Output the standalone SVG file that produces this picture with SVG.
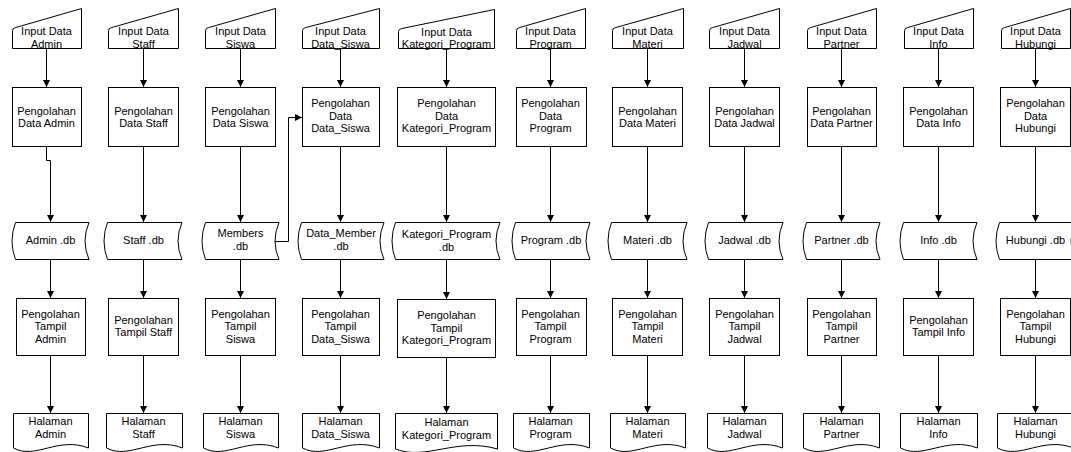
<svg xmlns="http://www.w3.org/2000/svg" width="1071" height="452" viewBox="0 0 1071 452">
<defs>
<marker id="arr" viewBox="0 0 10 10" markerWidth="7" markerHeight="7" refX="10" refY="5" orient="auto" markerUnits="userSpaceOnUse">
<path d="M0,0 L10,5 L0,10 Z" fill="#000"/>
</marker>
<style>
.s{fill:#fff;stroke:#000;stroke-width:1}
.t{font-family:"Liberation Sans",Arial,sans-serif;font-size:11px;fill:#000;text-anchor:middle}
.c{fill:none;stroke:#000;stroke-width:1;marker-end:url(#arr)}
</style>
</defs>
<rect width="1071" height="452" fill="#fff"/>

<g id="connectors">
<path class="c" d="M46.5,48.5 V87"/>
<path class="c" d="M46.5,146.5 V160.5 H50.5 V222"/>
<path class="c" d="M50.5,259.5 V298"/>
<path class="c" d="M50.5,355.5 V413"/>

<path class="c" d="M143.5,48.5 V87"/>
<path class="c" d="M143.5,146.5 V222"/>
<path class="c" d="M143.5,259.5 V298"/>
<path class="c" d="M143.5,355.5 V413"/>

<path class="c" d="M240.5,48.5 V87"/>
<path class="c" d="M240.5,146.5 V222"/>
<path class="c" d="M240.5,259.5 V298"/>
<path class="c" d="M240.5,355.5 V413"/>

<path class="c" d="M340.5,48.5 V87"/>
<path class="c" d="M340.5,146.5 V222"/>
<path class="c" d="M340.5,259.5 V298"/>
<path class="c" d="M340.5,355.5 V413"/>
<path class="c" d="M275,241.5 H288.5 V117.5 H302"/>

<path class="c" d="M446.5,48.5 V87"/>
<path class="c" d="M446.5,146.5 V222"/>
<path class="c" d="M446.5,259.5 V299"/>
<path class="c" d="M446.5,357.5 V413"/>

<path class="c" d="M550.5,48.5 V87"/>
<path class="c" d="M550.5,146.5 V222"/>
<path class="c" d="M550.5,259.5 V298"/>
<path class="c" d="M550.5,355.5 V413"/>

<path class="c" d="M647.5,48.5 V87"/>
<path class="c" d="M647.5,146.5 V222"/>
<path class="c" d="M647.5,259.5 V298"/>
<path class="c" d="M647.5,355.5 V413"/>

<path class="c" d="M744.5,48.5 V87"/>
<path class="c" d="M744.5,146.5 V222"/>
<path class="c" d="M744.5,259.5 V298"/>
<path class="c" d="M744.5,355.5 V413"/>

<path class="c" d="M841.5,48.5 V87"/>
<path class="c" d="M841.5,146.5 V222"/>
<path class="c" d="M841.5,259.5 V298"/>
<path class="c" d="M841.5,355.5 V413"/>

<path class="c" d="M938.5,48.5 V87"/>
<path class="c" d="M938.5,146.5 V222"/>
<path class="c" d="M938.5,259.5 V298"/>
<path class="c" d="M938.5,355.5 V413"/>

<path class="c" d="M1035.5,48.5 V87"/>
<path class="c" d="M1035.5,146.5 V222"/>
<path class="c" d="M1035.5,259.5 V298"/>
<path class="c" d="M1035.5,355.5 V413"/>
</g>

<!-- Column: Admin -->
<g id="input-admin"><path class="s" d="M12.5,48.5 V30.5 Q12.8,28 15.5,27.6 L81.5,8.5 V48.5 Z"/><text class="t" x="46.5" y="35">Input Data</text><text class="t" x="46.5" y="47.5">Admin</text></g>
<g id="proc-data-admin"><rect class="s" x="12.5" y="87.5" width="69" height="59"/><text class="t" x="46.5" y="114.5">Pengolahan</text><text class="t" x="46.5" y="127">Data Admin</text></g>
<g id="db-admin"><path class="s" d="M15.5,222.5 H89 Q81,241 89,259.5 H15.5 Q8.5,241 15.5,222.5 Z"/><text class="t" x="50.5" y="244">Admin .db</text></g>
<g id="proc-tampil-admin"><rect class="s" x="16.5" y="298.5" width="69" height="57"/><text class="t" x="50.5" y="317.5">Pengolahan</text><text class="t" x="50.5" y="330">Tampil</text><text class="t" x="50.5" y="342.5">Admin</text></g>
<g id="doc-admin"><path class="s" d="M13.5,413.5 H88.5 V448 C58,436 35.5,460 13.5,448 Z"/><text class="t" x="50.5" y="424.5">Halaman</text><text class="t" x="50.5" y="437.5">Admin</text></g>

<!-- Column: Staff -->
<g id="input-staff"><path class="s" d="M108.5,48.5 V30.5 Q108.8,28 111.5,27.6 L178.5,8.5 V48.5 Z"/><text class="t" x="143.5" y="35">Input Data</text><text class="t" x="143.5" y="47.5">Staff</text></g>
<g id="proc-data-staff"><rect class="s" x="108.5" y="87.5" width="70" height="59"/><text class="t" x="143.5" y="114.5">Pengolahan</text><text class="t" x="143.5" y="127">Data Staff</text></g>
<g id="db-staff"><path class="s" d="M107.5,222.5 H182 Q174,241 182,259.5 H107.5 Q100.5,241 107.5,222.5 Z"/><text class="t" x="143.5" y="244">Staff .db</text></g>
<g id="proc-tampil-staff"><rect class="s" x="108.5" y="298.5" width="70" height="57"/><text class="t" x="143.5" y="323.5">Pengolahan</text><text class="t" x="143.5" y="336">Tampil Staff</text></g>
<g id="doc-staff"><path class="s" d="M106.5,413.5 H182.5 V448 C152,436 129,460 106.5,448 Z"/><text class="t" x="143.5" y="424.5">Halaman</text><text class="t" x="143.5" y="437.5">Staff</text></g>

<!-- Column: Siswa -->
<g id="input-siswa"><path class="s" d="M205.5,48.5 V30.5 Q205.8,28 208.5,27.6 L275.5,8.5 V48.5 Z"/><text class="t" x="240.5" y="35">Input Data</text><text class="t" x="240.5" y="47.5">Siswa</text></g>
<g id="proc-data-siswa"><rect class="s" x="205.5" y="87.5" width="70" height="59"/><text class="t" x="240.5" y="114.5">Pengolahan</text><text class="t" x="240.5" y="127">Data Siswa</text></g>
<g id="db-members"><path class="s" d="M205.5,222.5 H279 Q271,241 279,259.5 H205.5 Q198.5,241 205.5,222.5 Z"/><text class="t" x="240.5" y="237">Members</text><text class="t" x="240.5" y="249.5">.db</text></g>
<g id="proc-tampil-siswa"><rect class="s" x="205.5" y="298.5" width="70" height="57"/><text class="t" x="240.5" y="317.5">Pengolahan</text><text class="t" x="240.5" y="330">Tampil</text><text class="t" x="240.5" y="342.5">Siswa</text></g>
<g id="doc-siswa"><path class="s" d="M203.5,413.5 H278.5 V448 C248,436 225.5,460 203.5,448 Z"/><text class="t" x="240.5" y="424.5">Halaman</text><text class="t" x="240.5" y="437.5">Siswa</text></g>

<!-- Column: Data_Siswa -->
<g id="input-data-siswa"><path class="s" d="M302.5,48.5 V30.5 Q302.8,28 305.5,27.6 L379.5,8.5 V48.5 Z"/><text class="t" x="340.5" y="35">Input Data</text><text class="t" x="340.5" y="47.5">Data_Siswa</text></g>
<g id="proc-data-data-siswa"><rect class="s" x="302.5" y="87.5" width="77" height="59"/><text class="t" x="340.5" y="107">Pengolahan</text><text class="t" x="340.5" y="119.5">Data</text><text class="t" x="340.5" y="132">Data_Siswa</text></g>
<g id="db-data-member"><path class="s" d="M301.5,222.5 H384 Q376,241 384,259.5 H301.5 Q294.5,241 301.5,222.5 Z"/><text class="t" x="341" y="237">Data_Member</text><text class="t" x="341" y="249.5">.db</text></g>
<g id="proc-tampil-data-siswa"><rect class="s" x="302.5" y="298.5" width="77" height="57"/><text class="t" x="340.5" y="317.5">Pengolahan</text><text class="t" x="340.5" y="330">Tampil</text><text class="t" x="340.5" y="342.5">Data_Siswa</text></g>
<g id="doc-data-siswa"><path class="s" d="M302.5,413.5 H379.5 V448 C348,436 325,460 302.5,448 Z"/><text class="t" x="340.5" y="424.5">Halaman</text><text class="t" x="340.5" y="437.5">Data_Siswa</text></g>

<!-- Column: Kategori_Program -->
<g id="input-kategori-program"><path class="s" d="M398.5,48.5 V31.5 Q398.8,29 401.5,28.6 L494.5,9.5 V48.5 Z"/><text class="t" x="446.5" y="35.5">Input Data</text><text class="t" x="446.5" y="48">Kategori_Program</text></g>
<g id="proc-data-kategori-program"><rect class="s" x="397.5" y="87.5" width="98" height="59"/><text class="t" x="446.5" y="107">Pengolahan</text><text class="t" x="446.5" y="119.5">Data</text><text class="t" x="446.5" y="132">Kategori_Program</text></g>
<g id="db-kategori-program"><path class="s" d="M395.5,222.5 H500 Q492,241 500,259.5 H395.5 Q388.5,241 395.5,222.5 Z"/><text class="t" x="446.5" y="238">Kategori_Program</text><text class="t" x="446.5" y="250.5">.db</text></g>
<g id="proc-tampil-kategori-program"><rect class="s" x="397.5" y="299.5" width="98" height="58"/><text class="t" x="446.5" y="319">Pengolahan</text><text class="t" x="446.5" y="331.5">Tampil</text><text class="t" x="446.5" y="344">Kategori_Program</text></g>
<g id="doc-kategori-program"><path class="s" d="M395.5,413.5 H497.5 V449 C456,437 426,461 395.5,449 Z"/><text class="t" x="446.5" y="426">Halaman</text><text class="t" x="446.5" y="438.5">Kategori_Program</text></g>

<!-- Column: Program -->
<g id="input-program"><path class="s" d="M516.5,48.5 V30.5 Q516.8,28 519.5,27.6 L585.5,8.5 V48.5 Z"/><text class="t" x="550.5" y="35">Input Data</text><text class="t" x="550.5" y="47.5">Program</text></g>
<g id="proc-data-program"><rect class="s" x="516.5" y="87.5" width="70" height="59"/><text class="t" x="550.5" y="107">Pengolahan</text><text class="t" x="550.5" y="119.5">Data</text><text class="t" x="550.5" y="132">Program</text></g>
<g id="db-program"><path class="s" d="M515.5,222.5 H590 Q582,241 590,259.5 H515.5 Q508.5,241 515.5,222.5 Z"/><text class="t" x="551" y="244">Program .db</text></g>
<g id="proc-tampil-program"><rect class="s" x="516.5" y="298.5" width="70" height="57"/><text class="t" x="550.5" y="317.5">Pengolahan</text><text class="t" x="550.5" y="330">Tampil</text><text class="t" x="550.5" y="342.5">Program</text></g>
<g id="doc-program"><path class="s" d="M513.5,413.5 H589.5 V448 C559,436 536,460 513.5,448 Z"/><text class="t" x="550.5" y="424.5">Halaman</text><text class="t" x="550.5" y="437.5">Program</text></g>

<!-- Column: Materi -->
<g id="input-materi"><path class="s" d="M612.5,48.5 V30.5 Q612.8,28 615.5,27.6 L683.5,8.5 V48.5 Z"/><text class="t" x="647.5" y="35">Input Data</text><text class="t" x="647.5" y="47.5">Materi</text></g>
<g id="proc-data-materi"><rect class="s" x="612.5" y="87.5" width="70" height="59"/><text class="t" x="647.5" y="114.5">Pengolahan</text><text class="t" x="647.5" y="127">Data Materi</text></g>
<g id="db-materi"><path class="s" d="M611.5,222.5 H687 Q679,241 687,259.5 H611.5 Q604.5,241 611.5,222.5 Z"/><text class="t" x="647.5" y="244">Materi .db</text></g>
<g id="proc-tampil-materi"><rect class="s" x="612.5" y="298.5" width="70" height="57"/><text class="t" x="647.5" y="317.5">Pengolahan</text><text class="t" x="647.5" y="330">Tampil</text><text class="t" x="647.5" y="342.5">Materi</text></g>
<g id="doc-materi"><path class="s" d="M610.5,413.5 H685.5 V448 C655,436 632.5,460 610.5,448 Z"/><text class="t" x="647.5" y="424.5">Halaman</text><text class="t" x="647.5" y="437.5">Materi</text></g>

<!-- Column: Jadwal -->
<g id="input-jadwal"><path class="s" d="M709.5,48.5 V30.5 Q709.8,28 712.5,27.6 L779.5,8.5 V48.5 Z"/><text class="t" x="744.5" y="35">Input Data</text><text class="t" x="744.5" y="47.5">Jadwal</text></g>
<g id="proc-data-jadwal"><rect class="s" x="709.5" y="87.5" width="70" height="59"/><text class="t" x="744.5" y="114.5">Pengolahan</text><text class="t" x="744.5" y="127">Data Jadwal</text></g>
<g id="db-jadwal"><path class="s" d="M708.5,222.5 H783 Q775,241 783,259.5 H708.5 Q701.5,241 708.5,222.5 Z"/><text class="t" x="744.5" y="244">Jadwal .db</text></g>
<g id="proc-tampil-jadwal"><rect class="s" x="709.5" y="298.5" width="70" height="57"/><text class="t" x="744.5" y="317.5">Pengolahan</text><text class="t" x="744.5" y="330">Tampil</text><text class="t" x="744.5" y="342.5">Jadwal</text></g>
<g id="doc-jadwal"><path class="s" d="M707.5,413.5 H782.5 V448 C752,436 729.5,460 707.5,448 Z"/><text class="t" x="744.5" y="424.5">Halaman</text><text class="t" x="744.5" y="437.5">Jadwal</text></g>

<!-- Column: Partner -->
<g id="input-partner"><path class="s" d="M807.5,48.5 V30.5 Q807.8,28 810.5,27.6 L876.5,8.5 V48.5 Z"/><text class="t" x="841.5" y="35">Input Data</text><text class="t" x="841.5" y="47.5">Partner</text></g>
<g id="proc-data-partner"><rect class="s" x="807.5" y="87.5" width="69" height="59"/><text class="t" x="841.5" y="114.5">Pengolahan</text><text class="t" x="841.5" y="127">Data Partner</text></g>
<g id="db-partner"><path class="s" d="M806.5,222.5 H880 Q872,241 880,259.5 H806.5 Q799.5,241 806.5,222.5 Z"/><text class="t" x="841.5" y="244">Partner .db</text></g>
<g id="proc-tampil-partner"><rect class="s" x="807.5" y="298.5" width="69" height="57"/><text class="t" x="841.5" y="317.5">Pengolahan</text><text class="t" x="841.5" y="330">Tampil</text><text class="t" x="841.5" y="342.5">Partner</text></g>
<g id="doc-partner"><path class="s" d="M803.5,413.5 H879.5 V448 C849,436 826,460 803.5,448 Z"/><text class="t" x="841.5" y="424.5">Halaman</text><text class="t" x="841.5" y="437.5">Partner</text></g>

<!-- Column: Info -->
<g id="input-info"><path class="s" d="M904.5,48.5 V30.5 Q904.8,28 907.5,27.6 L973.5,8.5 V48.5 Z"/><text class="t" x="938.5" y="35">Input Data</text><text class="t" x="938.5" y="47.5">Info</text></g>
<g id="proc-data-info"><rect class="s" x="903.5" y="87.5" width="70" height="59"/><text class="t" x="938.5" y="114.5">Pengolahan</text><text class="t" x="938.5" y="127">Data Info</text></g>
<g id="db-info"><path class="s" d="M903.5,222.5 H977 Q969,241 977,259.5 H903.5 Q896.5,241 903.5,222.5 Z"/><text class="t" x="938.5" y="244">Info .db</text></g>
<g id="proc-tampil-info"><rect class="s" x="903.5" y="298.5" width="70" height="57"/><text class="t" x="938.5" y="323.5">Pengolahan</text><text class="t" x="938.5" y="336">Tampil Info</text></g>
<g id="doc-info"><path class="s" d="M900.5,413.5 H977.5 V448 C946,436 923,460 900.5,448 Z"/><text class="t" x="938.5" y="424.5">Halaman</text><text class="t" x="938.5" y="437.5">Info</text></g>

<!-- Column: Hubungi -->
<g id="input-hubungi"><path class="s" d="M1001.5,48.5 V30.5 Q1001.8,28 1004.5,27.6 L1070.5,8.5 V48.5 Z"/><text class="t" x="1035.5" y="35">Input Data</text><text class="t" x="1035.5" y="47.5">Hubungi</text></g>
<g id="proc-data-hubungi"><rect class="s" x="1000.5" y="87.5" width="70" height="59"/><text class="t" x="1035.5" y="107">Pengolahan</text><text class="t" x="1035.5" y="119.5">Data</text><text class="t" x="1035.5" y="132">Hubungi</text></g>
<g id="db-hubungi"><path class="s" d="M999.5,222.5 H1075 Q1067,241 1075,259.5 H999.5 Q992.5,241 999.5,222.5 Z"/><text class="t" x="1035.5" y="244">Hubungi .db</text></g>
<g id="proc-tampil-hubungi"><rect class="s" x="1000.5" y="298.5" width="70" height="57"/><text class="t" x="1035.5" y="317.5">Pengolahan</text><text class="t" x="1035.5" y="330">Tampil</text><text class="t" x="1035.5" y="342.5">Hubungi</text></g>
<g id="doc-hubungi"><path class="s" d="M997.5,413.5 H1073.5 V448 C1043,436 1020,460 997.5,448 Z"/><text class="t" x="1035.5" y="424.5">Halaman</text><text class="t" x="1035.5" y="437.5">Hubungi</text></g>
</svg>
